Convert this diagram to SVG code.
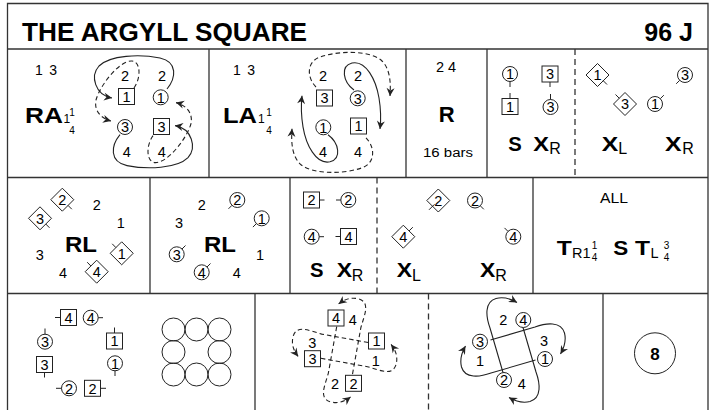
<svg xmlns="http://www.w3.org/2000/svg" width="715" height="410" viewBox="0 0 715 410">
<style>
text{font-family:"Liberation Sans",Arial,Helvetica,sans-serif;fill:#000}
.n{font-size:14.5px;text-anchor:middle}
.lab{font-size:14px}
.big{font-size:22px;font-weight:bold}
.mid{font-size:20px;font-weight:bold}
.sub{font-size:16px}
.sb{font-size:12px}
.fr{font-size:10px;text-anchor:middle}
.ln{stroke:#333;stroke-width:1.3;fill:none}
.dl{stroke:#333;stroke-width:1.3;fill:none;stroke-dasharray:6,4}
.s{fill:#fff;stroke:#222;stroke-width:1}
.tk{stroke:#222;stroke-width:1}
.p{fill:none;stroke:#222;stroke-width:1.1;marker-end:url(#ah)}
.pd{fill:none;stroke:#222;stroke-width:1.1;stroke-dasharray:4.5,3;marker-end:url(#ah)}
</style>
<defs>
<marker id="ah" viewBox="-9 -5 10 10" refX="0" refY="0" markerWidth="10" markerHeight="10" markerUnits="userSpaceOnUse" orient="auto"><path d="M0,0 L-8,-4 L-5.5,0 L-8,4 Z" fill="#222"/></marker>
</defs>
<rect width="715" height="410" fill="#fff"/>
<g id="grid">
<path class="ln" d="M7.5,415 V3.5 H708 V415"/>
<path class="ln" d="M7.5,49 H708 M7.5,177.5 H708 M7.5,293.5 H708"/>
<path class="ln" d="M209,49 V177.5 M406,49 V177.5 M487,49 V177.5"/>
<path class="dl" d="M575,49 V177.5"/>
<path class="ln" d="M150,177.5 V293.5 M290,177.5 V293.5 M533,177.5 V293.5"/>
<path class="dl" d="M377,177.5 V293.5"/>
<path class="ln" d="M255,293.5 V412 M603,293.5 V412"/>
<path class="dl" d="M428.5,293.5 V412"/>
</g>
<g id="title">
<text x="22" y="41" font-size="25" font-weight="bold" textLength="285" lengthAdjust="spacingAndGlyphs">THE ARGYLL SQUARE</text>
<text x="693" y="41" font-size="25" font-weight="bold" text-anchor="end">96 J</text>
</g>
<g id="connectors">
<path class="p" d="M167,89 C176,78 178,62 160,58 C140,54 110,55 99,66 C90,76 95,95 112,98"/>
<path class="pd" d="M134,88 C141,78 141,62 132,61 C120,60 100,85 96,100 C94,110 100,118 111,121"/>
<g transform="rotate(180,143.5,111.8)">
<path class="p" d="M167,89 C176,78 178,62 160,58 C140,54 110,55 99,66 C90,76 95,95 112,98"/>
<path class="pd" d="M134,88 C141,78 141,62 132,61 C120,60 100,85 96,100 C94,110 100,118 111,121"/>
</g>
<path class="pd" d="M316,87 C307,78 306,62 320,57 C340,50 370,51 381,60 C390,68 391,82 390,96"/>
<path class="p" d="M354,90 C343,82 340,66 352,63 C366,60 376,80 379,98 C381,110 381,120 380,129"/>
<g transform="rotate(180,341,112.4)">
<path class="pd" d="M316,87 C307,78 306,62 320,57 C340,50 370,51 381,60 C390,68 391,82 390,96"/>
<path class="p" d="M354,90 C343,82 340,66 352,63 C366,60 376,80 379,98 C381,110 381,120 380,129"/>
</g>
<g transform="translate(344.6,350.4)">
<path class="pd" d="M-7.9,-23.7 L-16.3,22.9 C-20,36 -26,48 -14,51.5 C-6,53.5 0,51 6,46.5"/>
<path class="pd" transform="rotate(90)" d="M-7.9,-23.7 L-16.3,22.9 C-20,36 -26,48 -14,51.5 C-6,53.5 0,51 6,46.5"/>
<path class="pd" transform="rotate(180)" d="M-7.9,-23.7 L-16.3,22.9 C-20,36 -26,48 -14,51.5 C-6,53.5 0,51 6,46.5"/>
<path class="pd" transform="rotate(270)" d="M-7.9,-23.7 L-16.3,22.9 C-20,36 -26,48 -14,51.5 C-6,53.5 0,51 6,46.5"/>
</g>
<g transform="translate(513,350)">
<path class="p" d="M10,-22.5 L23,22 C27,33 29,48 17,51.5 C9,53.5 2,51 -4,47.5"/>
<path class="p" transform="rotate(90)" d="M10,-22.5 L23,22 C27,33 29,48 17,51.5 C9,53.5 2,51 -4,47.5"/>
<path class="p" transform="rotate(180)" d="M10,-22.5 L23,22 C27,33 29,48 17,51.5 C9,53.5 2,51 -4,47.5"/>
<path class="p" transform="rotate(270)" d="M10,-22.5 L23,22 C27,33 29,48 17,51.5 C9,53.5 2,51 -4,47.5"/>
</g>
</g>
<!-- Row 1, cell 1 RA -->
<g id="ra-label">
<text x="35" y="75" class="lab" textLength="22" lengthAdjust="spacing">1 3</text>
<text x="25" y="123" class="big" textLength="38" lengthAdjust="spacingAndGlyphs">RA</text>
<text x="63.5" y="123" class="sb">1</text>
<text x="72" y="116" class="fr">1</text>
<text x="72" y="134" class="fr">4</text>
</g>
<g id="ra-p2a"><text x="125" y="80.5" class="n">2</text></g>
<g id="ra-p2b"><text x="162" y="80.5" class="n">2</text></g>
<g id="ra-m1"><rect class="s" x="118.5" y="88.5" width="16" height="16"/><text x="126.5" y="101.7" class="n">1</text></g>
<g id="ra-w1"><circle class="s" cx="160.7" cy="97.3" r="7.5"/><text x="160.7" y="102.5" class="n">1</text></g>
<g id="ra-w3"><circle class="s" cx="125" cy="127" r="7.5"/><text x="125" y="132.2" class="n">3</text></g>
<g id="ra-m3"><rect class="s" x="153.5" y="118.5" width="16" height="16"/><text x="161.5" y="131.7" class="n">3</text></g>
<g id="ra-p4a"><text x="126.7" y="156.7" class="n">4</text></g>
<g id="ra-p4b"><text x="161.7" y="156.7" class="n">4</text></g>
<!-- Row 1, cell 2 LA -->
<g id="la-label">
<text x="233" y="75" class="lab" textLength="22" lengthAdjust="spacing">1 3</text>
<text x="223" y="123" class="big" textLength="34" lengthAdjust="spacingAndGlyphs">LA</text>
<text x="258" y="123" class="sb">1</text>
<text x="269" y="116" class="fr">1</text>
<text x="269" y="134" class="fr">4</text>
</g>
<g id="la-p2a"><text x="323" y="80.5" class="n">2</text></g>
<g id="la-p2b"><text x="358" y="80.5" class="n">2</text></g>
<g id="la-m3"><rect class="s" x="316.5" y="90" width="16" height="16"/><text x="324.5" y="103.2" class="n">3</text></g>
<g id="la-w3"><circle class="s" cx="357.7" cy="98.3" r="7.5"/><text x="357.7" y="103.5" class="n">3</text></g>
<g id="la-w1"><circle class="s" cx="323.3" cy="127.3" r="7.5"/><text x="323.3" y="132.5" class="n">1</text></g>
<g id="la-m1"><rect class="s" x="350.5" y="118" width="16" height="16"/><text x="358.5" y="131.2" class="n">1</text></g>
<g id="la-p4a"><text x="323" y="156.7" class="n">4</text></g>
<g id="la-p4b"><text x="358" y="156.7" class="n">4</text></g>
<!-- Row 1, cell 3 R -->
<g id="r-label">
<text x="446" y="72" class="n">2 4</text>
<text x="446.7" y="122" class="big" text-anchor="middle">R</text>
<text x="448" y="157" font-size="12" text-anchor="middle" textLength="50" lengthAdjust="spacingAndGlyphs">16 bars</text>
</g>
<!-- Row 1, cell 4 S XR -->
<g id="c4-w1"><circle class="s" cx="510" cy="74" r="7.5"/><text x="510" y="79.2" class="n">1</text><line class="tk" x1="510" y1="81.5" x2="510" y2="87"/></g>
<g id="c4-m3"><rect class="s" x="542" y="66" width="16" height="16"/><text x="550" y="79.2" class="n">3</text><line class="tk" x1="550" y1="82" x2="550" y2="87"/></g>
<g id="c4-m1"><rect class="s" x="502" y="98.5" width="16" height="16"/><text x="510" y="111.7" class="n">1</text><line class="tk" x1="510" y1="98.5" x2="510" y2="93"/></g>
<g id="c4-w3"><circle class="s" cx="550.5" cy="107" r="7.5"/><text x="550.5" y="112.2" class="n">3</text><line class="tk" x1="550.5" y1="99.5" x2="550.5" y2="94"/></g>
<g id="c4-label"><text x="508.3" y="150.7" class="mid" textLength="13.5" lengthAdjust="spacingAndGlyphs">S</text><text x="533.3" y="150.7" class="mid" textLength="15.7" lengthAdjust="spacingAndGlyphs">X</text><text x="549.3" y="153.5" class="sub">R</text></g>
<!-- Row 1, cell 5 XL XR -->
<g id="c5-m1"><polygon class="s" points="597.5,63.5 609,75 597.5,86.5 586,75"/><text x="597.5" y="80.2" class="n">1</text><line class="tk" x1="603.2" y1="80.7" x2="607" y2="84.5"/></g>
<g id="c5-w3"><circle class="s" cx="685" cy="75" r="7.5"/><text x="685" y="80.2" class="n">3</text><line class="tk" x1="679.7" y1="80.3" x2="676.2" y2="83.8"/></g>
<g id="c5-m3"><polygon class="s" points="625,92.5 636.5,104 625,115.5 613.5,104"/><text x="625" y="109.2" class="n">3</text><line class="tk" x1="619.3" y1="98.3" x2="615.5" y2="94.5"/></g>
<g id="c5-w1"><circle class="s" cx="655" cy="104" r="7.5"/><text x="655" y="109.2" class="n">1</text><line class="tk" x1="660.3" y1="98.7" x2="663.8" y2="95.2"/></g>
<g id="c5-label"><text x="601.7" y="150.7" class="mid" textLength="16.5" lengthAdjust="spacingAndGlyphs">X</text><text x="618.3" y="153.5" class="sub">L</text><text x="665" y="150.7" class="mid" textLength="16.5" lengthAdjust="spacingAndGlyphs">X</text><text x="682.2" y="153.5" class="sub">R</text></g>
<!-- Row 2, cell 1 RL -->
<g id="r2a-m3"><polygon class="s" points="40,206.8 51.5,218.3 40,229.8 28.5,218.3"/><text x="40" y="223.5" class="n">3</text><line class="tk" x1="45.75" y1="224" x2="49.5" y2="227.8"/></g>
<g id="r2a-m2"><polygon class="s" points="62.3,188.2 73.8,199.7 62.3,211.2 50.8,199.7"/><text x="62.3" y="204.9" class="n">2</text><line class="tk" x1="68" y1="205.4" x2="71.8" y2="209.2"/></g>
<g id="r2a-p2"><text x="96.7" y="210" class="n">2</text></g>
<g id="r2a-p1"><text x="120.8" y="228" class="n">1</text></g>
<g id="r2a-label"><text x="65" y="251.7" class="big" textLength="32" lengthAdjust="spacingAndGlyphs">RL</text></g>
<g id="r2a-p3"><text x="39.7" y="260" class="n">3</text></g>
<g id="r2a-m1"><polygon class="s" points="121.7,241.8 133.2,253.3 121.7,264.8 110.2,253.3"/><text x="121.7" y="258.5" class="n">1</text><line class="tk" x1="115.9" y1="247.6" x2="112.2" y2="243.8"/></g>
<g id="r2a-p4"><text x="63" y="278.3" class="n">4</text></g>
<g id="r2a-m4"><polygon class="s" points="96.7,260.2 108.2,271.7 96.7,283.2 85.2,271.7"/><text x="96.7" y="276.9" class="n">4</text><line class="tk" x1="90.9" y1="266" x2="87.2" y2="262.2"/></g>
<!-- Row 2, cell 2 RL -->
<g id="r2b-p2"><text x="201.7" y="210" class="n">2</text></g>
<g id="r2b-w2"><circle class="s" cx="237.3" cy="200" r="7.5"/><text x="237.3" y="205.2" class="n">2</text><line class="tk" x1="232" y1="205.3" x2="228.5" y2="208.8"/></g>
<g id="r2b-p3"><text x="179" y="228" class="n">3</text></g>
<g id="r2b-w1"><circle class="s" cx="261.7" cy="218.3" r="7.5"/><text x="261.7" y="223.5" class="n">1</text><line class="tk" x1="256.4" y1="223.6" x2="252.9" y2="227.1"/></g>
<g id="r2b-label"><text x="204" y="251.7" class="big" textLength="32" lengthAdjust="spacingAndGlyphs">RL</text></g>
<g id="r2b-w3"><circle class="s" cx="176.7" cy="254.3" r="7.5"/><text x="176.7" y="259.5" class="n">3</text><line class="tk" x1="182" y1="249" x2="185.5" y2="245.5"/></g>
<g id="r2b-w4"><circle class="s" cx="201.7" cy="272.3" r="7.5"/><text x="201.7" y="277.5" class="n">4</text><line class="tk" x1="207" y1="267" x2="210.5" y2="263.5"/></g>
<g id="r2b-p1"><text x="260" y="260" class="n">1</text></g>
<g id="r2b-p4"><text x="236.7" y="278.3" class="n">4</text></g>
<!-- Row 2, cell 3 S XR -->
<g id="r2c-m2"><rect class="s" x="303.5" y="192" width="16" height="16"/><text x="311.5" y="205.2" class="n">2</text><line class="tk" x1="319.5" y1="200" x2="324.5" y2="200"/></g>
<g id="r2c-w2"><circle class="s" cx="348.3" cy="200" r="7.5"/><text x="348.3" y="205.2" class="n">2</text><line class="tk" x1="340.8" y1="200" x2="336" y2="200"/></g>
<g id="r2c-w4"><circle class="s" cx="311.7" cy="236.7" r="7.5"/><text x="311.7" y="241.9" class="n">4</text><line class="tk" x1="319.2" y1="236.7" x2="324" y2="236.7"/></g>
<g id="r2c-m4"><rect class="s" x="340.5" y="228.5" width="16" height="16"/><text x="348.5" y="241.7" class="n">4</text><line class="tk" x1="340.5" y1="236.5" x2="335.5" y2="236.5"/></g>
<g id="r2c-label"><text x="310" y="276.7" class="mid" textLength="13.5" lengthAdjust="spacingAndGlyphs">S</text><text x="336.7" y="276.7" class="mid" textLength="15.3" lengthAdjust="spacingAndGlyphs">X</text><text x="351.8" y="281" class="sub">R</text></g>
<!-- Row 2, cell 4 XL XR -->
<g id="r2d-m2"><polygon class="s" points="438.3,189 449.8,200.5 438.3,212 426.8,200.5"/><text x="438.3" y="205.7" class="n">2</text><line class="tk" x1="434.5" y1="204.3" x2="429" y2="209.8"/></g>
<g id="r2d-w2"><circle class="s" cx="475" cy="200.5" r="7.5"/><text x="475" y="205.7" class="n">2</text><line class="tk" x1="480.3" y1="205.8" x2="483.8" y2="209.3"/></g>
<g id="r2d-m4"><polygon class="s" points="403.3,225.2 414.8,236.7 403.3,248.2 391.8,236.7"/><text x="403.3" y="241.9" class="n">4</text><line class="tk" x1="409" y1="231" x2="412.8" y2="227.2"/></g>
<g id="r2d-w4"><circle class="s" cx="513.3" cy="236.7" r="7.5"/><text x="513.3" y="241.9" class="n">4</text><line class="tk" x1="508" y1="231.4" x2="504.5" y2="227.9"/></g>
<g id="r2d-label"><text x="396.7" y="276.7" class="mid" textLength="15.3" lengthAdjust="spacingAndGlyphs">X</text><text x="412" y="281" class="sub">L</text><text x="480" y="276.7" class="mid" textLength="15.3" lengthAdjust="spacingAndGlyphs">X</text><text x="495.3" y="281" class="sub">R</text></g>
<!-- Row 2, cell 5 ALL -->
<g id="r2e-label">
<text x="614" y="203.3" font-size="14" text-anchor="middle" textLength="28" lengthAdjust="spacingAndGlyphs">ALL</text>
<text x="556.7" y="255" font-size="21" font-weight="bold" textLength="15" lengthAdjust="spacingAndGlyphs">T</text>
<text x="572" y="257.5" font-size="14.5">R1</text>
<text x="594.5" y="249" class="fr">1</text>
<text x="594.5" y="261" class="fr">4</text>
<text x="613.3" y="255" font-size="21" font-weight="bold" textLength="15" lengthAdjust="spacingAndGlyphs">S</text>
<text x="635" y="255" font-size="21" font-weight="bold" textLength="15" lengthAdjust="spacingAndGlyphs">T</text>
<text x="650.5" y="257.5" font-size="14.5">L</text>
<text x="666.5" y="249" class="fr">3</text>
<text x="666.5" y="261" class="fr">4</text>
</g>
<!-- Row 3, cell 1 -->
<g id="r3a-m4"><rect class="s" x="60.5" y="309.5" width="16" height="16"/><text x="68.5" y="322.7" class="n">4</text><line class="tk" x1="60.5" y1="317.5" x2="55" y2="317.5"/></g>
<g id="r3a-w4"><circle class="s" cx="90.7" cy="317.7" r="7.5"/><text x="90.7" y="322.9" class="n">4</text><line class="tk" x1="98.2" y1="317.7" x2="103" y2="317.7"/></g>
<g id="r3a-w3"><circle class="s" cx="45" cy="341.7" r="7.5"/><text x="45" y="346.9" class="n">3</text><line class="tk" x1="45" y1="334.2" x2="45" y2="328.5"/></g>
<g id="r3a-m1"><rect class="s" x="106.5" y="333" width="16" height="16"/><text x="114.5" y="346.2" class="n">1</text><line class="tk" x1="114.5" y1="333" x2="114.5" y2="327.5"/></g>
<g id="r3a-m3"><rect class="s" x="36.5" y="356.5" width="16" height="16"/><text x="44.5" y="369.7" class="n">3</text><line class="tk" x1="44.5" y1="372.5" x2="44.5" y2="377.5"/></g>
<g id="r3a-w1"><circle class="s" cx="115" cy="363.3" r="7.5"/><text x="115" y="368.5" class="n">1</text><line class="tk" x1="115" y1="370.8" x2="115" y2="376"/></g>
<g id="r3a-w2"><circle class="s" cx="69" cy="388.3" r="7.5"/><text x="69" y="393.5" class="n">2</text><line class="tk" x1="61.5" y1="388.3" x2="56" y2="388.3"/></g>
<g id="r3a-m2"><rect class="s" x="84.5" y="380.3" width="16" height="16"/><text x="92.5" y="393.5" class="n">2</text><line class="tk" x1="100.5" y1="388.3" x2="106" y2="388.3"/></g>
<g id="r3a-set" fill="none" stroke="#222" stroke-width="1">
<circle cx="173.5" cy="329.5" r="11.5"/><circle cx="196.5" cy="329.5" r="11.5"/><circle cx="219.5" cy="329.5" r="11.5"/>
<circle cx="173.5" cy="352" r="11.5"/><circle cx="219.5" cy="352" r="11.5"/>
<circle cx="173.5" cy="374.5" r="11.5"/><circle cx="196.5" cy="374.5" r="11.5"/><circle cx="219.5" cy="374.5" r="11.5"/>
</g>
<!-- Row 3, cell 2 -->
<g id="r3b-m4"><rect class="s" x="328" y="310" width="16" height="16"/><text x="336" y="323.2" class="n">4</text></g>
<g id="r3b-p4"><text x="352.7" y="325" class="n">4</text></g>
<g id="r3b-m1"><rect class="s" x="368.5" y="333" width="16" height="16"/><text x="376.5" y="346.2" class="n">1</text></g>
<g id="r3b-p1"><text x="375.7" y="366" class="n">1</text></g>
<g id="r3b-p3"><text x="312.3" y="348" class="n">3</text></g>
<g id="r3b-m3"><rect class="s" x="304.5" y="350.7" width="16" height="16"/><text x="312.5" y="363.9" class="n">3</text></g>
<g id="r3b-p2"><text x="335" y="389" class="n">2</text></g>
<g id="r3b-m2"><rect class="s" x="345.5" y="375.3" width="16" height="16"/><text x="353.5" y="388.5" class="n">2</text></g>
<!-- Row 3, cell 3 -->
<g id="r3c-p2"><text x="503.3" y="325" class="n">2</text></g>
<g id="r3c-w4"><circle class="s" cx="523.3" cy="320" r="7.5"/><text x="523.3" y="325.2" class="n">4</text></g>
<g id="r3c-w3"><circle class="s" cx="480" cy="341.7" r="7.5"/><text x="480" y="346.9" class="n">3</text></g>
<g id="r3c-p3"><text x="544" y="346" class="n">3</text></g>
<g id="r3c-p1"><text x="480" y="366" class="n">1</text></g>
<g id="r3c-w1"><circle class="s" cx="545" cy="359" r="7.5"/><text x="545" y="364.2" class="n">1</text></g>
<g id="r3c-w2"><circle class="s" cx="504" cy="380" r="7.5"/><text x="504" y="385.2" class="n">2</text></g>
<g id="r3c-p4"><text x="521.7" y="389" class="n">4</text></g>
<!-- Row 3, cell 4 -->
<g id="r3d-count"><circle cx="655" cy="353.3" r="20.5" fill="#fff" stroke="#222" stroke-width="1"/><text x="655" y="359.5" font-size="17" font-weight="bold" text-anchor="middle">8</text></g>
</svg>
